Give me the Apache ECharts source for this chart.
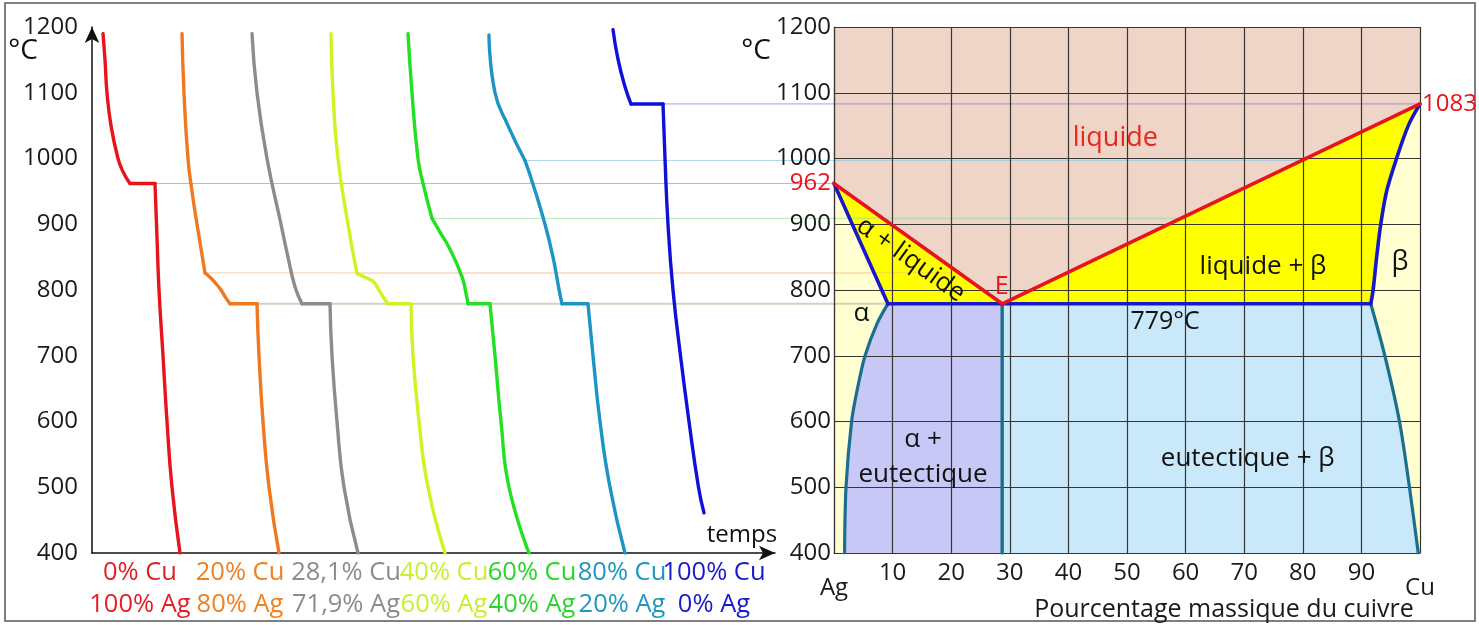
<!DOCTYPE html>
<html><head><meta charset="utf-8">
<script src="https://cdn.jsdelivr.net/npm/echarts@6/dist/echarts.min.js"></script>
<style>html,body{margin:0;padding:0;background:#fff}#c{width:1479px;height:625px}</style>
</head><body><div id="c"></div>
<script>
// ---------- data ----------
const tempMin = 400, tempMax = 1200, tempStep = 100;
const compMin = 0, compMax = 100, compStep = 10;
const timeMax = 68.3;

// cooling curves: [time, °C] segments (liquid cooling, solidification, plateau, solid cooling)
const curve0 = [[[1.1,1190],[1.3,1150],[1.5,1100],[1.9,1050],[2.6,1000],[3.1,980],[3.8,962]],
                [[3.8,962],[6.3,962]],
                [[6.3,962],[6.5,880],[6.7,800],[7.1,700],[7.5,600],[8.0,500],[8.8,400]]];
const curve1 = [[[9.0,1190],[9.2,1100],[9.6,1000],[10.0,950],[10.5,900],[11.3,826]],
                [[11.3,826],[11.9,818],[12.5,808],[12.9,800],[13.3,790],[13.8,779]],
                [[13.8,779],[16.5,779]],
                [[16.5,779],[16.7,700],[17.1,600],[17.7,500],[18.7,400]]];
const curve2 = [[[16.0,1190],[16.5,1100],[17.5,1000],[18.9,900],[19.6,850],[20.3,805],[21.0,779]],
                [[21.0,779],[23.8,779]],
                [[23.8,779],[24.0,700],[24.5,600],[25.2,500],[26.6,400]]];
const curve3 = [[[23.9,1190],[24.1,1100],[24.6,1000],[25.6,900],[26.5,825]],
                [[26.5,825],[27.1,821],[28.1,813],[28.5,805],[29.1,790],[29.6,779]],
                [[29.6,779],[31.9,779]],
                [[31.9,779],[32.1,700],[32.7,600],[33.6,500],[35.3,400]]];
const curve4 = [[[31.6,1190],[32.0,1100],[32.6,1000],[33.1,962],[34.0,909]],
                [[34.0,909],[34.8,888],[35.8,862],[37.0,820],[37.4,795],[37.6,779]],
                [[37.6,779],[39.8,779]],
                [[39.8,779],[40.3,700],[40.9,600],[41.7,500],[43.7,400]]];
const curve5 = [[[39.7,1188],[40.3,1100],[41.6,1050],[43.3,997]],
                [[43.3,997],[44.1,961],[45.3,900],[46.1,850],[46.7,801],[47.0,779]],
                [[47.0,779],[49.6,779]],
                [[49.6,779],[50.1,700],[50.8,600],[51.8,500],[53.3,400]]];
const curve6 = [[[52.1,1196],[52.6,1151],[53.3,1109],[53.9,1083]],
                [[53.9,1083],[57.1,1083]],
                [[57.1,1083],[57.3,1000],[57.6,900],[58.1,800],[58.85,700],[59.7,600],[60.65,500],[61.2,461]]];
const curves = [curve0, curve1, curve2, curve3, curve4, curve5, curve6];
const curveColors = ['#E8141C','#F07820','#8C8C8C','#CCF522','#22E022','#1C94C4','#1010D8'];
const labelColors = ['#E31E24','#F08020','#8C8C8C','#C8F032','#2AD52A','#1E96C0','#1A1ACD'];
const labelCu = ['0% Cu','20% Cu','28,1% Cu','40% Cu','60% Cu','80% Cu','100% Cu'];
const labelAg = ['100% Ag','80% Ag','71,9% Ag','60% Ag','40% Ag','20% Ag','0% Ag'];
const labelTime = [4.8, 14.8, 25.4, 35.2, 44.0, 53.0, 62.2];

// guide lines: from cooling curve break to phase diagram
const guideStart = [6.3, 11.3, 13.8, 26.5, 34.0, 43.3, 57.1];
const guideTemp  = [962, 826, 779, 825, 909, 997, 1083];
const guideComp  = [0, 20, 28.7, 40, 60, 80, 100];
const guideColors = ['rgba(240,110,110,0.65)','rgba(240,175,125,0.6)','rgba(205,195,175,0.8)',
                     'rgba(235,240,120,0.7)','rgba(130,220,130,0.6)','rgba(130,195,235,0.65)','rgba(100,100,220,0.6)'];
const guideWidths = [1,1,2,1,1,1,1];

// phase diagram boundaries [% Cu, °C]
const meltAg = [0, 962], meltCu = [100, 1083], eutectic = [28.7, 779];
const liquidus = [meltAg, eutectic, meltCu];
const solidusA = [meltAg, [9.2, 779]];
const solidusB = [meltCu, [98.0,1050],[96.0,1000],[94.3,950],[93.3,900],[92.6,850],[92.0,800],[91.6,779]];
const solvusA = [[9.2,779],[7.4,750],[5.3,700],[4.0,650],[3.0,600],[2.05,500],[1.8,400]];
const solvusB = [[91.6,779],[94.0,700],[96.5,600],[98.2,500],[99.7,400]];
const eutecticLine = [[9.2,779],[91.6,779]];
const eutecticVert = [eutectic, [28.7,400]];

const FONT = "'Open Sans', 'Noto Sans', sans-serif";

// ---------- build ----------
const chart = echarts.init(document.getElementById('c'));
const series = [];
curves.forEach((c, i) => {
  c.forEach(seg => {
    series.push({type:'line', xAxisIndex:0, yAxisIndex:0, data:seg, showSymbol:false, silent:true,
      smooth: seg.length > 2 ? 0.5 : false, z:10,
      lineStyle:{color:curveColors[i], width:3.4, cap:'round', join:'round'}});
  });
});
function region(points, color) {
  return {type:'custom', xAxisIndex:1, yAxisIndex:1, z:1, silent:true, data:[[50,800]],
    renderItem:(p, api) => ({type:'polygon', shape:{points: points.map(q => api.coord(q))},
      style:{fill:color}})};
}
series.push(region([[0,1200], ...liquidus, [100,1200]], '#EFD5C8'));
series.push(region([meltAg, [9.2,779], eutectic], '#FFFF00'));
series.push(region([eutectic, ...solidusB], '#FFFF00'));
series.push(region([...solvusA, [28.7,400], eutectic], '#C8C8F7'));
series.push(region([eutectic, [28.7,400], ...solvusB.slice().reverse()], '#C9E9FA'));
function bline(data, color, width, smooth) {
  series.push({type:'line', xAxisIndex:1, yAxisIndex:1, data, showSymbol:false, silent:true, z:8,
    smooth: smooth || false, lineStyle:{color, width, cap:'round', join:'round'}});
}
bline(solvusA, '#1A6E8E', 3.2, 0.3);
bline(solvusB, '#1A6E8E', 3.2, 0.3);
bline(eutecticVert, '#1A6E8E', 3.4);
bline(solidusA, '#1818C8', 3.6);
bline(solidusB, '#1818C8', 3.6, 0.3);
bline(eutecticLine, '#1818C8', 3.6);
bline(liquidus, '#E8141C', 3.6);

const tickLabel = {fontFamily:FONT, fontSize:24, color:'#1a1a1a', formatter: v => String(v)};
const option = {
  animation:false,
  backgroundColor:'#ffffff',
  grid:[
    {left:92, top:27, width:683, height:526, show:false},
    {left:834, top:27, width:586, height:526, show:true, backgroundColor:'#FFFFD2', borderWidth:0}
  ],
  xAxis:[
    {gridIndex:0, type:'value', min:0, max:timeMax,
     axisLine:{show:true, symbol:['none','arrow'], symbolSize:[11,16], lineStyle:{color:'#111', width:1.5}},
     axisTick:{show:false}, axisLabel:{show:false}, splitLine:{show:false}},
    {gridIndex:1, type:'value', min:compMin, max:compMax, interval:compStep, z:4,
     axisLine:{show:true, lineStyle:{color:'#3a3530', width:1.2}},
     axisTick:{show:false}, splitLine:{show:true, lineStyle:{color:'#3a3530', width:1.2}},
     axisLabel:Object.assign({}, tickLabel, {margin:8,
       formatter:v => v === 0 ? '{g|Ag}' : (v === 100 ? '{g|Cu}' : String(v)),
       rich:{g:{fontFamily:FONT, fontSize:24, color:'#1a1a1a', padding:[15,0,0,0]}}})}
  ],
  yAxis:[
    {gridIndex:0, type:'value', min:tempMin, max:tempMax, interval:tempStep,
     axisLine:{show:true, symbol:['none','arrow'], symbolSize:[11,16], lineStyle:{color:'#111', width:1.5}},
     axisTick:{show:false}, splitLine:{show:false}, axisLabel:Object.assign({}, tickLabel, {margin:14})},
    {gridIndex:1, type:'value', min:tempMin, max:tempMax, interval:tempStep, z:4,
     axisLine:{show:true, lineStyle:{color:'#3a3530', width:1.2}},
     axisTick:{show:false}, splitLine:{show:true, lineStyle:{color:'#3a3530', width:1.2}},
     axisLabel:Object.assign({}, tickLabel, {margin:3})}
  ],
  series
};
chart.setOption(option);

// ---------- annotations ----------
const L = v => chart.convertToPixel({xAxisIndex:0, yAxisIndex:0}, v);
const R = v => chart.convertToPixel({xAxisIndex:1, yAxisIndex:1}, v);
const g = [];
g.push({type:'rect', z:0, silent:true, shape:{x:5, y:3, width:1470, height:618},
  style:{fill:'none', stroke:'#555', lineWidth:1.5}});
guideStart.forEach((t, i) => {
  const a = L([t, guideTemp[i]]), b = R([guideComp[i], guideTemp[i]]);
  g.push({type:'line', z:3, silent:true, shape:{x1:a[0], y1:a[1], x2:b[0], y2:a[1]},
    style:{stroke:guideColors[i], lineWidth:guideWidths[i]}});
});
function txt(pt, text, color, size, opts) {
  const o = Object.assign({align:'center', va:'middle', rot:0, dx:0, dy:0}, opts || {});
  g.push({type:'text', z:20, silent:true, x:pt[0] + o.dx, y:pt[1] + o.dy, rotation:o.rot,
    style:{text, fill:color, font:size + 'px ' + FONT, textAlign:o.align, textVerticalAlign:o.va}});
}
const x400 = L([0, 400]);
labelTime.forEach((t, i) => {
  const p = L([t, 400]);
  txt([p[0], x400[1] + 20], labelCu[i], labelColors[i], 25.5);
  txt([p[0], x400[1] + 52], labelAg[i], labelColors[i], 25.5);
});
txt([23, 51], '°C', '#111', 28);
txt([756, 51], '°C', '#111', 28);
txt(L([65, 400]), 'temps', '#111', 24, {dy:-18});
txt(R([50, 400]), 'Pourcentage massique du cuivre', '#1a1a1a', 25, {dx:97, dy:57});
txt(R(meltAg), '962', '#E8141C', 24, {align:'right', dx:-3});
txt(R(meltCu), '1083', '#E8141C', 24, {align:'left', dx:2});
txt(R([48.0,1031]), 'liquide', '#E8281E', 27);
txt(R([13.1,846]), 'α + liquide', '#111', 26, {rot:-0.62});
txt(R([28.6,804]), 'E', '#E8141C', 25);
txt(R([4.7,764]), 'α', '#111', 26);
txt(R([15.2,572]), 'α +', '#111', 26);
txt(R([15.2,520]), 'eutectique', '#111', 26);
txt(R([56.5,752]), '779°C', '#111', 25);
txt(R([73.2,836]), 'liquide + β', '#111', 26);
txt(R([96.6,842]), 'β', '#111', 27);
txt(R([70.6,544]), 'eutectique + β', '#111', 26);
chart.setOption({graphic:g});
</script></body></html>
